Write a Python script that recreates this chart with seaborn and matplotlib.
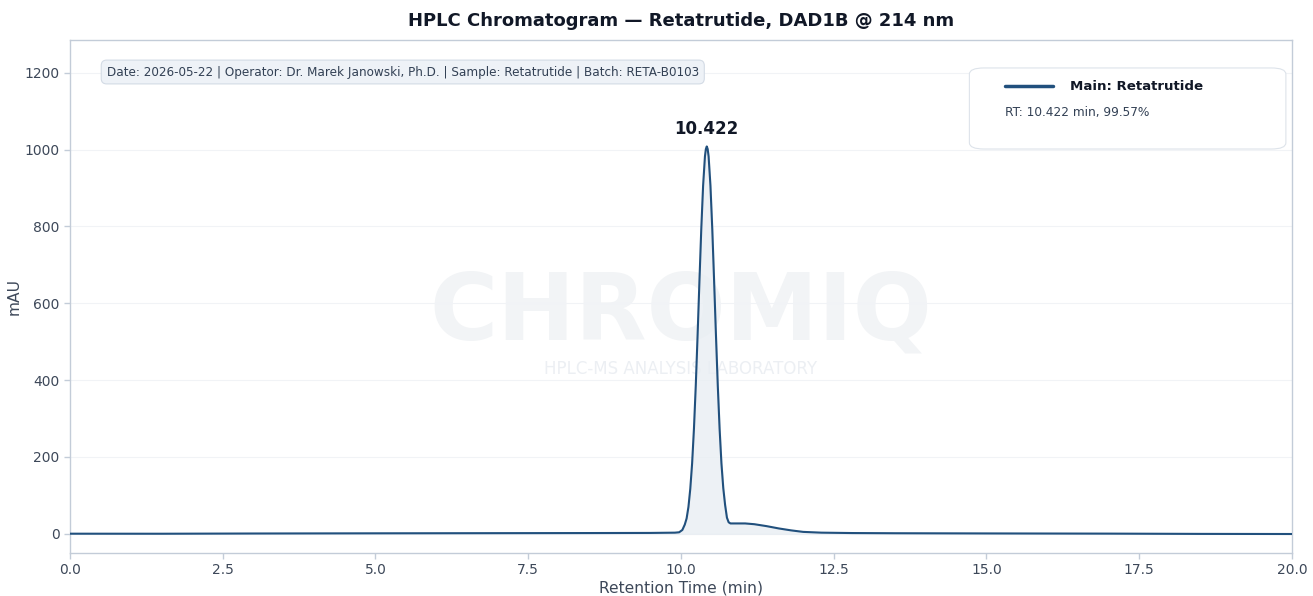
import matplotlib
matplotlib.use("Agg")
import matplotlib.pyplot as plt
from matplotlib.patches import FancyBboxPatch
import seaborn as sns
import pandas as pd

# retention time (min) and detector signal (mAU)
rt_min = [0.0, 1.5, 3.0, 5.0, 7.0, 8.5, 9.5, 9.9, 9.97, 10.022, 10.062,
          10.092, 10.122, 10.152, 10.182, 10.212, 10.242, 10.272, 10.302,
          10.332, 10.362, 10.392, 10.407, 10.422, 10.437, 10.452, 10.482,
          10.512, 10.542, 10.572, 10.602, 10.632, 10.662, 10.692, 10.722,
          10.752, 10.78, 10.81, 10.9, 11.05, 11.2, 11.4, 11.6, 11.8, 12.0,
          12.3, 12.8, 13.5, 15.0, 17.0, 18.5, 20.0]
signal_mau = [0.3, 0.2, 0.8, 1.3, 1.7, 2.0, 2.3, 3.0, 4.0, 10, 24,
              40, 70, 117, 183, 273, 386, 518, 658,
              793, 906, 982, 1001, 1008, 1001, 982, 906,
              793, 658, 518, 386, 273, 183, 119, 75,
              42, 30, 27, 27, 27, 25, 20, 14, 9, 5,
              3, 2, 1.5, 1.0, 0.5, -0.2, -0.5]

peak_rt = 10.422
peak_height = 1008
peak_name = "Main: Retatrutide"
peak_info = "RT: 10.422 min, 99.57%"
header = ("Date: 2026-05-22 | Operator: Dr. Marek Janowski, Ph.D. | "
          "Sample: Retatrutide | Batch: RETA-B0103")

LINE = "#21507d"
SPINE = "#c3ccd8"
TXT = "#3d4859"

df = pd.DataFrame({"rt": rt_min, "mau": signal_mau})

sns.set_theme(style="white")
plt.rcParams["font.family"] = ["DejaVu Sans"]

fig, ax = plt.subplots(figsize=(13.13, 5.96), dpi=100)
fig.subplots_adjust(left=0.0533, right=0.984, top=0.9329, bottom=0.0721)

# watermark
ax.text(0.5, 0.466, "CHROMIQ", transform=ax.transAxes, ha="center", va="center",
        fontsize=67, fontweight="bold", color="#f2f4f6", zorder=0)
ax.text(0.5, 0.358, "HPLC-MS ANALYSIS LABORATORY", transform=ax.transAxes,
        ha="center", va="center", fontsize=12, color="#eceff3", zorder=0)

ax.fill_between(df["rt"], df["mau"], 0, color="#e9eef3", alpha=0.8, zorder=1)
sns.lineplot(data=df, x="rt", y="mau", ax=ax, color=LINE, linewidth=1.5,
             errorbar=None, label=peak_name, zorder=3)

ax.annotate(f"{peak_rt:.3f}", xy=(peak_rt, peak_height), xytext=(0, 6),
            textcoords="offset points", ha="center", va="bottom",
            fontsize=12, fontweight="bold", color="#111827")

ax.set_xlim(0, 20)
ax.set_ylim(-50, 1285)
ax.set_xticks([0, 2.5, 5, 7.5, 10, 12.5, 15, 17.5, 20])
ax.set_yticks([0, 200, 400, 600, 800, 1000, 1200])
ax.yaxis.grid(True, color="#f1f3f6", linewidth=0.8)
ax.set_axisbelow(True)
for s in ax.spines.values():
    s.set_color(SPINE)
    s.set_linewidth(1)
ax.tick_params(axis="both", colors=SPINE, labelcolor=TXT, labelsize=10,
               length=4, width=1, bottom=True, left=True)

ax.set_title("HPLC Chromatogram \u2014 Retatrutide, DAD1B @ 214 nm",
             fontsize=13, fontweight="bold", color="#111827", pad=10)
ax.set_xlabel("Retention Time (min)", fontsize=11.2, color=TXT, labelpad=2)
ax.set_ylabel("mAU", fontsize=11.2, color=TXT, labelpad=2)

ax.text(0.030, 0.9376, header, transform=ax.transAxes, ha="left", va="center",
        fontsize=8.65, color="#334155",
        bbox=dict(boxstyle="round,pad=0.45", facecolor="#eef2f7",
                  edgecolor="#d3dbe5", linewidth=0.8))

# legend panel
panel = FancyBboxPatch((0.736, 0.7875), 0.259, 0.158, transform=ax.transAxes,
                       boxstyle="round,pad=0,rounding_size=0.012",
                       facecolor="white", edgecolor="#dde3ea", linewidth=0.8,
                       zorder=4)
ax.add_patch(panel)
leg = ax.legend(loc="center left", bbox_to_anchor=(0.7651, 0.9084),
                frameon=False, borderpad=0, borderaxespad=0,
                handlelength=3.6, handletextpad=1.3, fontsize=9.6)
for t in leg.get_texts():
    t.set_fontweight("bold")
    t.set_color("#111827")
for h in leg.get_lines():
    h.set_linewidth(2.5)
leg.set_zorder(5)
ax.text(0.7651, 0.8577, peak_info, transform=ax.transAxes, ha="left",
        va="center", fontsize=8.7, color="#334155", zorder=5)

fig.savefig("out.png", dpi=100)
